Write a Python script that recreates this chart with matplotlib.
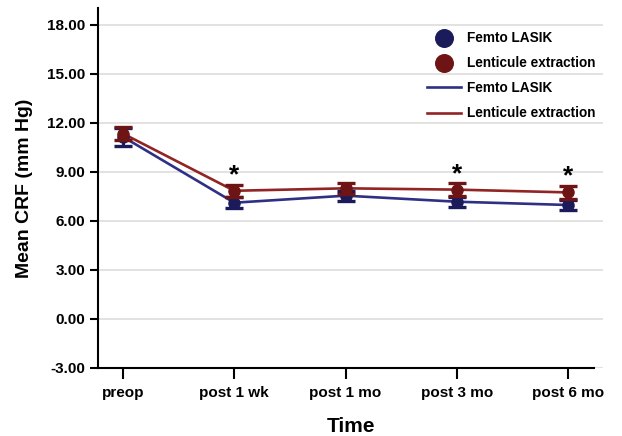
import matplotlib.pyplot as plt
import numpy as np

# -----------------------
# Data
# -----------------------
timepoints = ["preop", "post 1 wk", "post 1 mo", "post 3 mo", "post 6 mo"]
femto_mean = [11.15, 7.12, 7.55, 7.18, 6.98]
femto_err = [0.55, 0.32, 0.30, 0.30, 0.30]
lent_mean = [11.35, 7.85, 8.0, 7.92, 7.75]
lent_err = [0.38, 0.38, 0.33, 0.38, 0.40]
signif = [False, True, False, True, True]

yticks = [-3, 0, 3, 6, 9, 12, 15, 18]

navy = "#1b1b5c"
navy_line = "#2f2f85"
maroon = "#6e1414"
maroon_line = "#922424"

plt.rcParams['font.family'] = ['Liberation Sans', 'DejaVu Sans']
plt.rcParams['font.weight'] = 'bold'

fig = plt.figure(figsize=(6.22, 4.36), dpi=100)
ax = fig.add_axes([0.1576, 0.156, 0.812, 0.826])

x = np.arange(len(timepoints))

ax.plot(x, femto_mean, color=navy_line, lw=1.9, zorder=3)
ax.plot(x, lent_mean, color=maroon_line, lw=1.9, zorder=3)
ax.errorbar(x, femto_mean, yerr=femto_err, fmt="o", color=navy, ms=8,
            capsize=6.5, capthick=2.4, elinewidth=2.2, zorder=4)
ax.errorbar(x, lent_mean, yerr=lent_err, fmt="o", color=maroon, ms=8,
            capsize=6.5, capthick=2.4, elinewidth=2.2, zorder=5)

# significance stars
for i, s in enumerate(signif):
    if s:
        ax.text(x[i], max(femto_mean[i], lent_mean[i]) + lent_err[i] - 0.15, "*",
                ha="center", va="bottom", fontsize=19, fontweight="bold")

# legend (circle markers then lines)
h1 = ax.scatter([], [], s=160, color=navy)
h2 = ax.scatter([], [], s=160, color=maroon)
h3, = ax.plot([], [], color=navy_line, lw=1.9)
h4, = ax.plot([], [], color=maroon_line, lw=1.9)
ax.legend([h1, h2, h3, h4],
          ["Femto LASIK", "Lenticule extraction", "Femto LASIK", "Lenticule extraction"],
          loc="upper right", bbox_to_anchor=(1.01, 0.97), frameon=False,
          fontsize=9.8, handlelength=2.5, labelspacing=0.82, handletextpad=0.5)

# -----------------------
# Formatting
# -----------------------
ax.set_xlim(-0.225, 4.315)
ax.set_ylim(-3, 19.05)
ax.spines["bottom"].set_bounds(-0.225, 4.23)
ax.set_xticks(x)
ax.set_xticklabels(timepoints, fontsize=11, fontweight="bold")
ax.set_yticks(yticks)
ax.set_yticklabels([f"{v:.2f}" for v in yticks], fontsize=11, fontweight="bold")
ax.tick_params(axis="x", length=8, width=1.5, pad=5)
ax.tick_params(axis="y", length=6, width=1.5, pad=3)

ax.set_xlabel("Time", fontsize=15, fontweight="bold", labelpad=12)
ax.set_ylabel("Mean CRF (mm Hg)", fontsize=14, fontweight="bold", labelpad=10)

ax.grid(axis="y", color="#dddddd", lw=1.2)
ax.set_axisbelow(True)
for side in ["top", "right"]:
    ax.spines[side].set_visible(False)
for side in ["left", "bottom"]:
    ax.spines[side].set_linewidth(1.5)

fig.savefig("out.png", dpi=100)
